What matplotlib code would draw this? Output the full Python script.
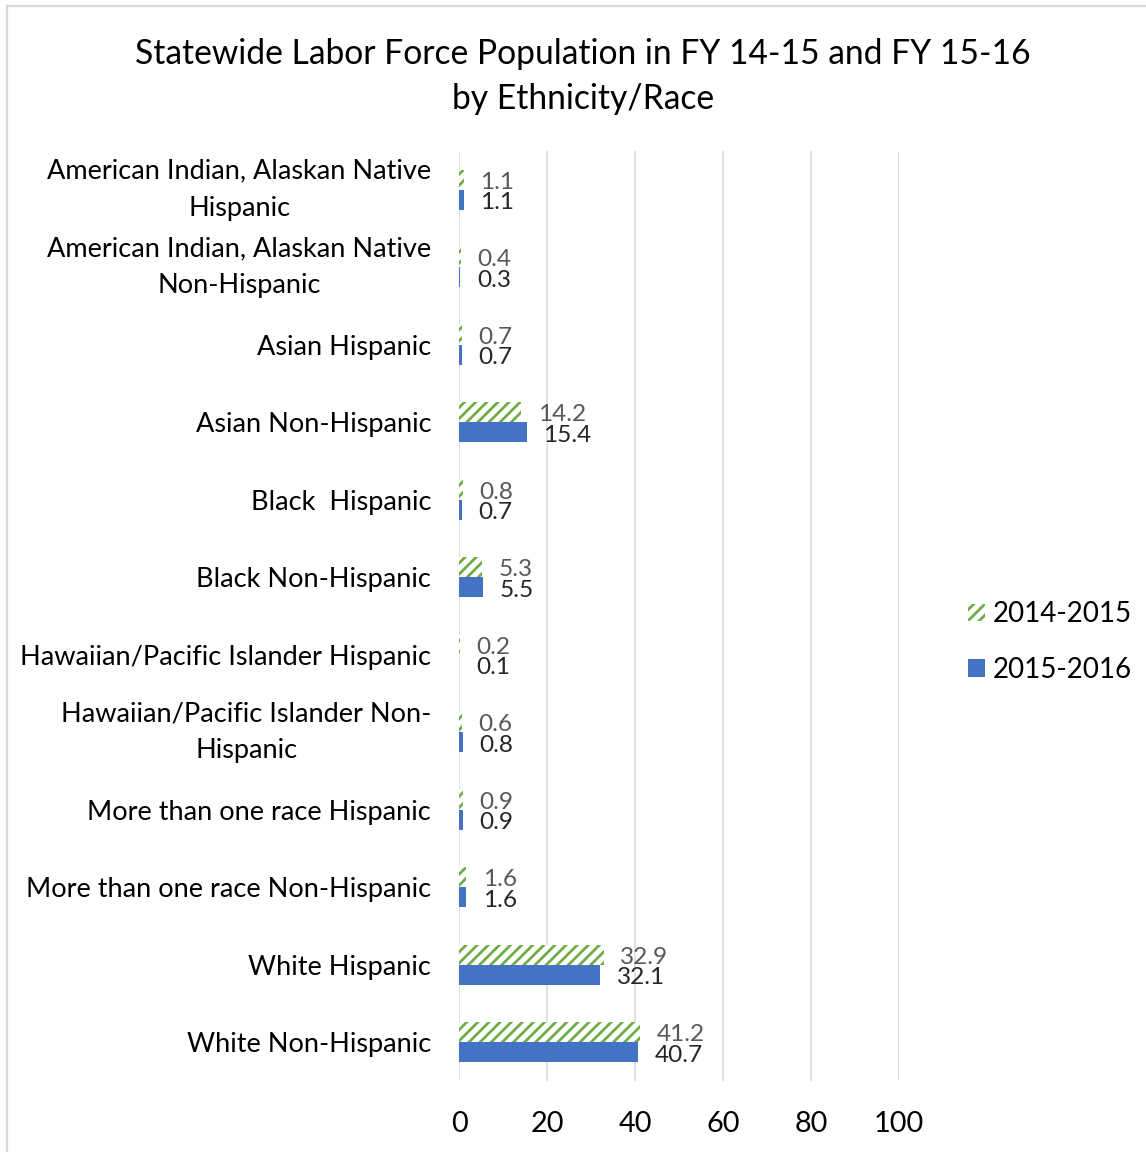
import numpy as np
import matplotlib
matplotlib.use("Agg")
import matplotlib.pyplot as plt
from matplotlib.lines import Line2D

plt.rcParams["font.family"] = ["Lato", "DejaVu Sans"]
plt.rcParams["hatch.linewidth"] = 2.0

categories = [
    "American Indian, Alaskan Native\nHispanic",
    "American Indian, Alaskan Native\nNon-Hispanic",
    "Asian Hispanic",
    "Asian Non-Hispanic",
    "Black  Hispanic",
    "Black Non-Hispanic",
    "Hawaiian/Pacific Islander Hispanic",
    "Hawaiian/Pacific Islander Non-\nHispanic",
    "More than one race Hispanic",
    "More than one race Non-Hispanic",
    "White Hispanic",
    "White Non-Hispanic",
]
fy_1415 = [1.1, 0.4, 0.7, 14.2, 0.8, 5.3, 0.2, 0.6, 0.9, 1.6, 32.9, 41.2]
fy_1516 = [1.1, 0.3, 0.7, 15.4, 0.7, 5.5, 0.1, 0.8, 0.9, 1.6, 32.1, 40.7]
x_ticks = [0, 20, 40, 60, 80, 100]

green = "#70AD47"
blue = "#4472C4"
grid_c = "#D9D9D9"

fig = plt.figure(figsize=(11.46, 11.52), dpi=100)
ax = fig.add_axes([459 / 1146, 1 - 1081 / 1152, 440 / 1146, 930 / 1152])

y = np.arange(len(categories))
h = 0.26
b1 = ax.barh(y - h / 2, fy_1415, height=h, facecolor="white", edgecolor=green,
             hatch="///", linewidth=0, label="2014-2015")
b2 = ax.barh(y + h / 2, fy_1516, height=h, color=blue, label="2015-2016")

for bar, v in zip(b1, fy_1415):
    ax.annotate(f"{v}", (bar.get_width(), bar.get_y() + bar.get_height() / 2),
                xytext=(12, -2), textcoords="offset points", va="center", ha="left",
                fontsize=17.6, color="#595959")
for bar, v in zip(b2, fy_1516):
    ax.annotate(f"{v}", (bar.get_width(), bar.get_y() + bar.get_height() / 2),
                xytext=(12, -2), textcoords="offset points", va="center", ha="left",
                fontsize=17.6, color="#262626")

ax.set_xlim(0, 100)
ax.set_ylim(len(categories) - 0.5, -0.5)
ax.set_xticks(x_ticks)
ax.set_xticklabels([str(t) for t in x_ticks], fontsize=20.8)
ax.set_yticks(y)
ax.set_yticklabels(categories, fontsize=19.5)
for lab in ax.get_yticklabels():
    lab.set_multialignment("center")
    lab.set_linespacing(1.6)
    if "\n" in lab.get_text():
        lab.set_va("center")
ax.tick_params(axis="both", length=0)
ax.tick_params(axis="y", pad=20)
ax.tick_params(axis="x", pad=21.5)
ax.grid(axis="x", color=grid_c, linewidth=1.1)
ax.set_axisbelow(True)
for s in ax.spines.values():
    s.set_visible(False)

fig.text(583 / 1146, 1 - 76.5 / 1152,
         "Statewide Labor Force Population in FY 14-15 and FY 15-16\nby Ethnicity/Race",
         ha="center", va="center", multialignment="center", fontsize=24.2, linespacing=1.5)

fig.legend(handles=[b1, b2], loc="center left", bbox_to_anchor=(968 / 1146, 1 - 642 / 1152),
           frameon=False, fontsize=20, handlelength=0.6, handleheight=0.6,
           handletextpad=0.3, labelspacing=1.05, borderpad=0, borderaxespad=0)

# chart border (only left/top edges fall inside the picture)
fig.add_artist(Line2D([7 / 1146, 7 / 1146], [0, 1 - 6 / 1152], color=grid_c, linewidth=1.6,
                      transform=fig.transFigure))
fig.add_artist(Line2D([7 / 1146, 1], [1 - 6 / 1152, 1 - 6 / 1152], color=grid_c, linewidth=1.6,
                      transform=fig.transFigure))

fig.savefig("out.png", dpi=100)
